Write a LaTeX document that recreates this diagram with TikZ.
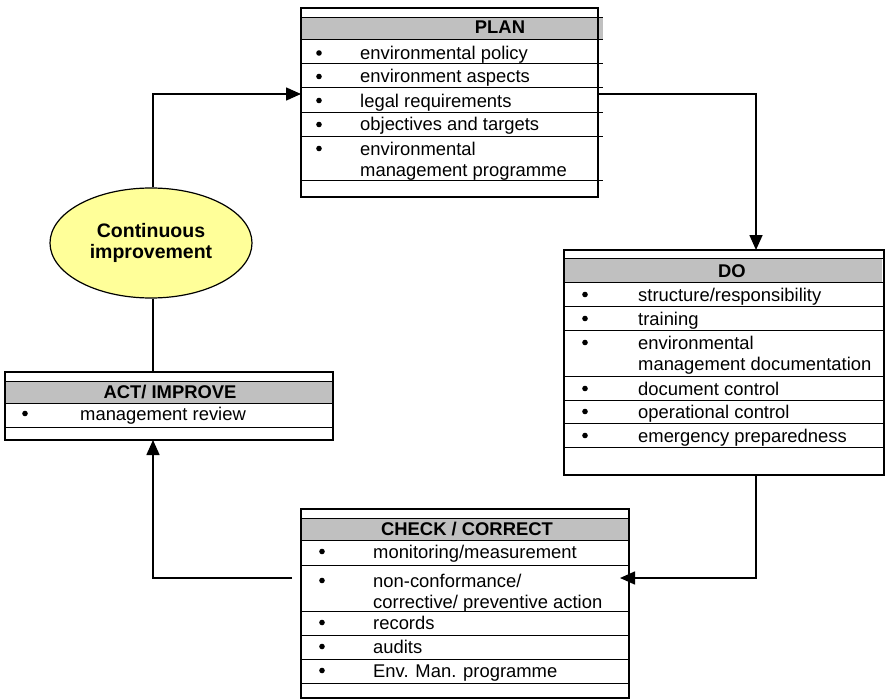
\documentclass[tikz,border=0pt]{standalone}
\usepackage{fontspec}
\setmainfont{Liberation Sans}
\usetikzlibrary{shapes.geometric,arrows.meta}
\definecolor{hdrgray}{RGB}{192,192,192}
\definecolor{ellfill}{RGB}{255,255,153}
\begin{document}
\begin{tikzpicture}[x=1pt,y=-1pt,
  boxframe/.style={draw, line width=1.5pt, inner sep=0pt, outer sep=0pt, anchor=north west},
  rowline/.style={line width=0.8pt},
  hdr/.style={fill=hdrgray, draw=none},
  txt/.style={inner sep=0pt, anchor=base west, font=\fontsize{18.4}{21}\selectfont, align=left},
  bul/.style={circle, fill=black, inner sep=0pt, minimum size=5.6pt, yshift=6.5pt},
  htxt/.style={inner sep=0pt, anchor=base, font=\fontsize{18.4}{21}\selectfont\bfseries},
  conn/.style={line width=1.6pt},
  arr/.style={conn, -{Triangle[length=15pt,width=13pt]}},
]
\useasboundingbox (0,0) rectangle (885,698);

% ---------------- PLAN ----------------
\fill[hdr] (301,17) rectangle (603,39);
\foreach \y in {17,39,63,87,112,136,180} \draw[rowline] (301,\y) -- (603,\y);
\node[boxframe, minimum width=297pt, minimum height=189pt] (plan) at (301,8) {};
\node[htxt] (planh) at (500,33.5) {PLAN};
\node[bul] (pb1) at (319,59.5) {};
\node[txt] (pt1) at (360,59.5) {environmental policy};
\node[bul] (pb2) at (319,83) {};
\node[txt] (pt2) at (360,83) {environment aspects};
\node[bul] (pb3) at (319,107) {};
\node[txt] (pt3) at (360,107) {legal requirements};
\node[bul] (pb4) at (319,131) {};
\node[txt] (pt4) at (360,131) {objectives and targets};
\node[bul] (pb5) at (319,155) {};
\node[txt] (pt5) at (360,176) {environmental\\management programme};

% ---------------- DO ----------------
\fill[hdr] (564,258) rectangle (882,282);
\foreach \y in {258,282,306,330,376,400,423,447} \draw[rowline] (564,\y) -- (884,\y);
\node[boxframe, minimum width=320pt, minimum height=225pt] (do) at (564,250) {};
\node[htxt] (doh) at (732,277) {DO};
\node[bul] (db1) at (585,301) {};
\node[txt] (dt1) at (638,301) {structure/responsibility};
\node[bul] (db2) at (585,325) {};
\node[txt] (dt2) at (638,325) {training};
\node[bul] (db3) at (585,349) {};
\node[txt] (dt3) at (638,370) {environmental\\management documentation};
\node[bul] (db4) at (585,395) {};
\node[txt] (dt4) at (638,395) {document control};
\node[bul] (db5) at (585,418) {};
\node[txt] (dt5) at (638,418) {operational control};
\node[bul] (db6) at (585,442) {};
\node[txt] (dt6) at (638,442) {emergency preparedness};

% ---------------- CHECK / CORRECT ----------------
\fill[hdr] (301,518) rectangle (629,540);
\foreach \y in {518,540,565,611,635,659,683} \draw[rowline] (301,\y) -- (629,\y);
\node[boxframe, minimum width=328pt, minimum height=189pt] (check) at (301,509) {};
\node[htxt] (checkh) at (467,535) {CHECK / CORRECT};
\node[bul] (cb1) at (322,558) {};
\node[txt] (ct1) at (373,558) {monitoring/measurement};
\node[bul] (cb2) at (322,587) {};
\node[txt] (ct2) at (373,608) {non-conformance/\\corrective/ preventive action};
\node[bul] (cb3) at (322,629) {};
\node[txt] (ct3) at (373,629) {records};
\node[bul] (cb4) at (322,653) {};
\node[txt] (ct4) at (373,653) {audits};
\node[bul] (cb5) at (322,677) {};
\node[txt] (ct5) at (373,677) {Env. Man. programme};

% ---------------- ACT / IMPROVE ----------------
\fill[hdr] (5,381) rectangle (333,403);
\foreach \y in {381,403,427} \draw[rowline] (5,\y) -- (333,\y);
\node[boxframe, minimum width=328pt, minimum height=68pt] (act) at (5,372) {};
\node[htxt] (acth) at (170,398) {ACT/ IMPROVE};
\node[bul] (ab1) at (25,420) {};
\node[txt] (at1) at (80,420) {management review};

% ---------------- Continuous improvement ----------------
\node[ellipse, draw, line width=1.2pt, fill=ellfill, minimum width=202pt, minimum height=110pt,
      align=center, inner sep=0pt, font=\fontsize{19.5}{21.5}\selectfont\bfseries] (ci) at (151,243)
      {Continuous\\improvement};

% ---------------- connectors ----------------
\coordinate (L) at (153,94);
\coordinate (R) at (756,94);
\coordinate (B) at (756,578);
\coordinate (Bt) at (620,578);
\coordinate (C) at (292,578);
\draw[arr] (ci.north -| L) |- (plan.west |- L);
\draw[arr] (plan.east |- R) -| (do.north -| R);
\draw[arr] (do.south -| B) |- (Bt);
\draw[arr] (C) -| (act.south -| L);
\draw[conn] (ci.south -| L) -- (act.north -| L);
\end{tikzpicture}
\end{document}
